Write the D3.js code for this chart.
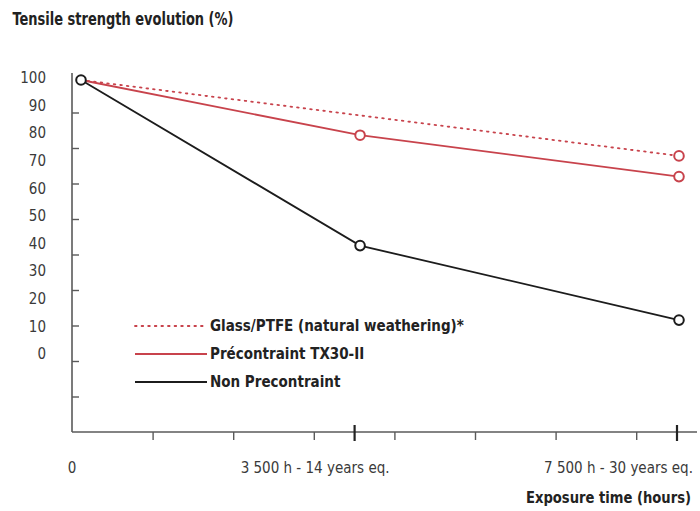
<!DOCTYPE html>
<html>
<head>
<meta charset="utf-8">
<script src="https://cdn.jsdelivr.net/npm/d3@7/dist/d3.min.js"></script>
<style>
  html, body { margin: 0; padding: 0; background: #fff; }
  svg { display: block; }
  text { font-family: "Liberation Sans Narrow", "DejaVu Sans Condensed", "Roboto", sans-serif; }
</style>
</head>
<body>
<svg id="chart" width="700" height="511"></svg>
<script>
// ---- data ----
const title = "Tensile strength evolution (%)";
const xTitle = "Exposure time (hours)";
const yTickLabels = [100, 90, 80, 70, 60, 50, 40, 30, 20, 10, 0];
const xTickHours = [0, 3500, 7500];
const xTickLabels = ["0", "3 500 h - 14 years eq.", "7 500 h - 30 years eq."];
const seriesNames = ["Glass/PTFE (natural weathering)*", "Précontraint TX30-II", "Non Precontraint"];
const glassHours = [0, 7500];
const glassValues = [100, 72.5];
const tx30Hours = [0, 3500, 7500];
const tx30Values = [100, 80, 65];
const nonHours = [0, 3500, 7500];
const nonValues = [100, 40, 13];

const RED = "#c8434c";
const BLACK = "#1c1c1c";
const AXIS = "#5a5a5a";

const svg = d3.select("#chart");

// scales
const axisX = 72, axisY = 432, axisTop = 73, axisRight = 697;
const xAxisScale = d3.scaleLinear().domain([0, 1000]).range([axisX, axisX + 80.6]);
const xData = d3.scaleLinear().domain([0, 7500]).range([81, 679]);
const y = d3.scaleLinear().domain([0, 100]).range([356, 80]);
const yTickScale = d3.scaleLinear().domain([0, 1]).range([axisY, axisY - 35.5]);

// title
svg.append("text").attr("x", 12.5).attr("y", 24.5)
  .attr("font-size", 17).attr("font-weight", "bold").attr("fill", "#222")
  .attr("textLength", 221).attr("lengthAdjust", "spacingAndGlyphs")
  .text(title);

// y axis line + ticks
svg.append("line").attr("x1", axisX).attr("x2", axisX).attr("y1", axisTop).attr("y2", axisY)
  .attr("stroke", AXIS).attr("stroke-width", 1.6);
const yAxis = d3.axisRight(yTickScale).tickValues(d3.range(1, 10)).tickSize(7).tickFormat("");
const yG = svg.append("g").attr("transform", `translate(${axisX},0)`).call(yAxis);
yG.select(".domain").remove();
yG.selectAll("line").attr("stroke", AXIS).attr("stroke-width", 1.4);

// y labels
svg.append("g").selectAll("text").data(yTickLabels).join("text")
  .attr("x", 46).attr("y", d => y(d) - 2).attr("dy", "0.35em")
  .attr("text-anchor", "end").attr("font-size", 15).attr("fill", "#3a3a3a")
  .text(d => d);

// x axis line + ticks
svg.append("line").attr("x1", axisX).attr("x2", axisRight).attr("y1", axisY).attr("y2", axisY)
  .attr("stroke", AXIS).attr("stroke-width", 1.6);
const minorAxis = d3.axisBottom(xAxisScale).tickValues(d3.range(1000, 8000, 1000)).tickSize(8).tickFormat("");
const mG = svg.append("g").attr("transform", `translate(0,${axisY})`).call(minorAxis);
mG.select(".domain").remove();
mG.selectAll("line").attr("stroke", AXIS).attr("stroke-width", 1.4);
const majorAxis = d3.axisBottom(xAxisScale).tickValues([3500, 7500]).tickSize(16).tickFormat("");
const MG = svg.append("g").attr("transform", `translate(0,${axisY - 7})`).call(majorAxis);
MG.select(".domain").remove();
MG.selectAll("line").attr("stroke", "#222").attr("stroke-width", 2.2);

// x tick labels
const xLabelDx = [0, -39, -58];
svg.append("g").selectAll("text").data(xTickHours).join("text")
  .attr("x", (d, i) => xAxisScale(d) + xLabelDx[i]).attr("y", 473)
  .attr("text-anchor", "middle").attr("font-size", 15).attr("fill", "#3a3a3a")
  .text((d, i) => xTickLabels[i]);

// x title
svg.append("text").attr("x", 691).attr("y", 503).attr("text-anchor", "end")
  .attr("font-size", 15.5).attr("font-weight", "bold").attr("fill", "#222")
  .attr("textLength", 165).attr("lengthAdjust", "spacingAndGlyphs")
  .text(xTitle);

// lines
const line = (hs) => d3.line().x((d, i) => xData(hs[i])).y(d => y(d));
svg.append("path").datum(glassValues).attr("d", line(glassHours))
  .attr("fill", "none").attr("stroke", RED).attr("stroke-width", 1.8)
  .attr("stroke-dasharray", "1.6,5").attr("stroke-linecap", "round");
svg.append("path").datum(tx30Values).attr("d", line(tx30Hours))
  .attr("fill", "none").attr("stroke", RED).attr("stroke-width", 1.8);
svg.append("path").datum(nonValues).attr("d", line(nonHours))
  .attr("fill", "none").attr("stroke", BLACK).attr("stroke-width", 1.8);

// markers
function markers(hs, vs, color, skipFirst) {
  const pts = vs.map((v, i) => ({h: hs[i], v})).filter((d, i) => !(skipFirst && i === 0));
  svg.append("g").selectAll("circle").data(pts).join("circle")
    .attr("cx", d => xData(d.h)).attr("cy", d => y(d.v)).attr("r", 4.8)
    .attr("fill", "#fff").attr("stroke", color).attr("stroke-width", 2);
}
markers(glassHours, glassValues, RED, true);
markers(tx30Hours, tx30Values, RED, true);
markers(nonHours, nonValues, BLACK, false);

// legend
const legY = [326, 354, 382];
const legStyles = [
  {stroke: RED, dash: "1.6,5"},
  {stroke: RED, dash: null},
  {stroke: BLACK, dash: null}
];
const leg = svg.append("g");
seriesNames.forEach((name, i) => {
  leg.append("line").attr("x1", 135).attr("x2", 207).attr("y1", legY[i]).attr("y2", legY[i])
    .attr("stroke", legStyles[i].stroke).attr("stroke-width", 1.8)
    .attr("stroke-dasharray", legStyles[i].dash).attr("stroke-linecap", legStyles[i].dash ? "round" : "butt");
  leg.append("text").attr("x", 210).attr("y", legY[i]).attr("dy", "0.35em")
    .attr("font-size", 15).attr("font-weight", "bold").attr("fill", "#222")
    .text(name);
});
</script>
</body>
</html>
